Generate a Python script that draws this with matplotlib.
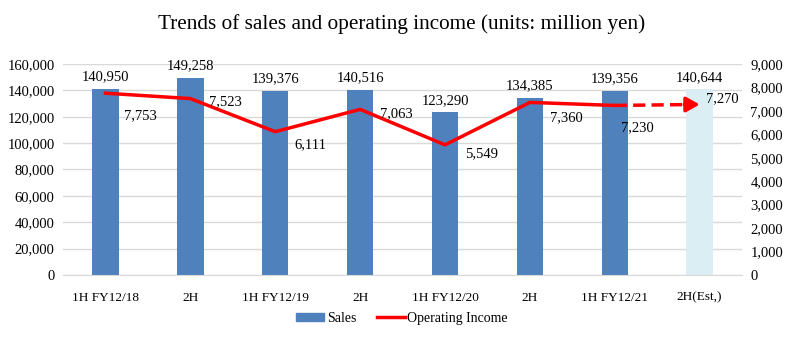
import matplotlib
matplotlib.use("Agg")
import matplotlib.pyplot as plt
from matplotlib.patches import Patch
from matplotlib.lines import Line2D

categories = ["1H FY12/18", "2H", "1H FY12/19", "2H", "1H FY12/20", "2H", "1H FY12/21", "2H(Est,)"]
sales = [140950, 149258, 139376, 140516, 123290, 134385, 139356, 140644]
operating_income = [7753, 7523, 6111, 7063, 5549, 7360, 7230, 7270]
estimate_flags = [False, False, False, False, False, False, False, True]

# label offsets (points) for operating income annotations
oi_label_offsets = [(25, -16), (25, -2), (25, -9), (26, -3), (26, -6), (26, -11), (16, -16), (16, 4)]

plt.rcParams["font.family"] = ["Liberation Serif", "DejaVu Serif"]

fig = plt.figure(figsize=(8.04, 3.42), dpi=100)
ax = fig.add_axes([0.0784, 0.196, 0.8446, 0.617])
ax2 = ax.twinx()

x = list(range(len(categories)))
bar_colors = ["#DAEEF3" if e else "#4F81BD" for e in estimate_flags]
ax.bar(x, sales, width=0.31, color=bar_colors, zorder=2)

ax.set_ylim(0, 160000)
ax.set_yticks(range(0, 160001, 20000))
ax.set_yticklabels([f"{v:,}" for v in range(0, 160001, 20000)])
ax.set_xlim(-0.5, len(categories) - 0.5)
ax.set_xticks(x)
ax.set_xticklabels(categories)
ax.grid(axis="y", color="#D9D9D9", linewidth=1, zorder=0)
ax.set_axisbelow(True)

ax2.set_ylim(0, 9000)
ax2.set_yticks(range(0, 9001, 1000))
ax2.set_yticklabels([f"{v:,}" for v in range(0, 9001, 1000)])

for a in (ax, ax2):
    for s in a.spines.values():
        s.set_visible(False)
    a.tick_params(length=0, labelsize=10.5, pad=6)
ax.tick_params(axis="x", pad=12, labelsize=9.5)
ax.spines["bottom"].set_visible(True)
ax.spines["bottom"].set_color("#D9D9D9")

# actual results: solid line; forecast: dashed arrow
n_act = sum(1 for e in estimate_flags if not e)
ax2.plot(x[:n_act], operating_income[:n_act], color="#FF0000", linewidth=2.5, zorder=3)
ax2.plot([x[n_act - 1], x[-1] - 0.1], [operating_income[n_act - 1], operating_income[-1]],
         color="#FF0000", linewidth=2.5, linestyle=(0, (3.5, 1.8)), zorder=3)
ax2.annotate("", xy=(x[-1], operating_income[-1]), xytext=(x[-1] - 0.18, operating_income[-1]),
             arrowprops=dict(arrowstyle="-|>,head_length=0.8,head_width=0.45",
                             color="#FF0000", lw=2.5, shrinkA=0, shrinkB=0), zorder=4)

for xi, v in zip(x, sales):
    ax.annotate(f"{v:,}", (xi, v), xytext=(0, 4), textcoords="offset points",
                ha="center", va="bottom", fontsize=10.5)
for xi, v, off in zip(x, operating_income, oi_label_offsets):
    ax2.annotate(f"{v:,}", (xi, v), xytext=off, textcoords="offset points",
                 ha="center", va="center", fontsize=10.5)

fig.suptitle("Trends of sales and operating income (units: million yen)", fontsize=15.3, y=0.96)

handles = [Patch(color="#4F81BD"), Line2D([0], [0], color="#FF0000", lw=2.5)]
fig.legend(handles, ["Sales", "Operating Income"], loc="center", bbox_to_anchor=(0.5, 0.07),
           ncol=2, frameon=False, fontsize=10, handlelength=2.0, handleheight=0.5,
           columnspacing=1.5, handletextpad=0.2)

fig.savefig("out.png", dpi=100)
